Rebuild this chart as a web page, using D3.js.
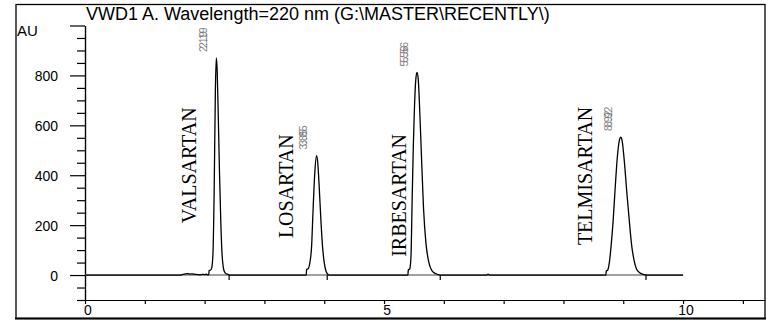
<!DOCTYPE html>
<html><head><meta charset="utf-8">
<script src="https://cdn.jsdelivr.net/npm/d3@7"></script>
<style>html,body{margin:0;padding:0;background:#fff}svg{display:block}</style>
</head><body>
<svg id="c" width="783" height="327"></svg>
<script>
// ---- data ----
const title = "VWD1 A. Wavelength=220 nm (G:\\MASTER\\RECENTLY\\)";
const yLabel = "AU";
const yMajorTicks = [0, 200, 400, 600, 800, 1000];
const yTickLabels = [0, 200, 400, 600, 800];
const xTicks = [0,1,2,3,4,5,6,7,8,9,10,11];
const xTickLabels = [0, 5, 10];
// chromatogram trace (time in min, signal in AU)
const traceTime = [0,1.60,1.64,1.68,1.72,1.76,1.80,1.84,1.88,1.92,1.96,2.00,2.03,2.05,2.07,2.075,2.10,2.12,2.14,2.16,2.18,2.195,2.21,2.23,2.25,2.27,2.29,2.31,2.33,2.36,2.40,2.41,
  3.70,3.705,3.73,3.76,3.79,3.81,3.84,3.87,3.89,3.92,3.94,3.97,4.00,4.03,4.06,4.08,
  5.40,5.405,5.43,5.45,5.47,5.49,5.51,5.53,5.55,5.57,5.60,5.63,5.66,5.70,5.75,5.80,5.86,5.94,
  6.72,6.74,6.76,
  8.71,8.715,8.74,8.77,8.80,8.83,8.86,8.90,8.94,8.96,8.98,9.02,9.06,9.10,9.14,9.18,9.22,9.27,9.33,9.40,10.0];
const traceAU = [0,0,3,5,6,4,5,3,2,1,3,2,4,1,2,18,20,30,90,340,740,870,820,620,400,220,90,35,14,5,2,0,
  0,22,25,50,120,240,400,478,455,335,240,120,50,15,3,0,
  0,20,25,70,300,520,680,780,812,790,640,450,270,130,50,18,6,0,
  0,4,0,
  0,15,20,55,125,215,330,470,545,553,540,450,330,220,120,60,25,10,3,0,0];
// peaks: retention-time labels
const peakNames = ["VALSARTAN","LOSARTAN","IRBESARTAN","TELMISARTAN"];
const peakRT = [2.195, 3.87, 5.55, 8.96];
const peakHeight = [870, 478, 812, 553];
const peakRTLabels = ["2.19","3.85","5.56","8.92"];
// compound name anchors (time, AU)
const nameTime = [1.856, 3.483, 5.368, 8.473];
const nameAU = [208, 148, 73, 120];
// integration end markers (min)
const markerTime = [2.41, 4.05, 5.94, 9.38];

// ---- drawing ----
const svg = d3.select("#c");
const x = d3.scaleLinear().domain([0, 11.37]).range([85, 765]);
const y = d3.scaleLinear().domain([-100, 1000]).range([300, 25.5]);
const sans = "'Liberation Sans', Arial, sans-serif";
const serif = "'Liberation Serif', 'Times New Roman', serif";

// frame
svg.append("rect").attr("x",16).attr("y",4.5).attr("width",749).attr("height",314)
  .attr("fill","none").attr("stroke","#000").attr("stroke-width",1.3);
svg.append("line").attr("x1",15).attr("x2",766).attr("y1",318.5).attr("y2",318.5)
  .attr("stroke","#000").attr("stroke-width",2.2);

// title
svg.append("text").attr("x",86).attr("y",20).attr("font-family",sans).attr("font-size",18)
  .attr("fill","#000").text(title);
svg.append("text").attr("x",17).attr("y",36).attr("font-family",sans).attr("font-size",15)
  .attr("fill","#000").text(yLabel);

// y axis minor ticks
const yMinor = d3.range(-100, 1001, 50).filter(v => yMajorTicks.indexOf(v) < 0);
const gyMinor = svg.append("g").attr("transform","translate(85,0)")
  .call(d3.axisLeft(y).tickValues(yMinor).tickSize(8).tickSizeOuter(0).tickFormat(""));
const gy = svg.append("g").attr("transform","translate(85,0)")
  .call(d3.axisLeft(y).tickValues(yMajorTicks).tickSize(15).tickSizeOuter(0)
    .tickFormat(d => yTickLabels.indexOf(d) >= 0 ? d : ""));
[gyMinor, gy].forEach(g => {
  g.selectAll("path,line").attr("stroke","#000").attr("stroke-width",1.2);
});
gy.selectAll("text").attr("font-family",sans).attr("font-size",14).attr("fill","#000")
  .attr("x",-27).attr("dy","0.36em");

// x axis
const gx = svg.append("g").attr("transform",`translate(0,${y(-100)})`)
  .call(d3.axisBottom(x).tickValues(xTicks).tickSize(4).tickSizeOuter(0)
    .tickFormat(d => xTickLabels.indexOf(d) >= 0 ? d : ""));
gx.selectAll("path,line").attr("stroke","#000").attr("stroke-width",1.2);
gx.selectAll("text").attr("font-family",sans).attr("font-size",14).attr("fill","#000")
  .attr("dx",2.5).attr("y",5);

// baseline
svg.append("line").attr("x1",x(0)).attr("x2",x(10)).attr("y1",y(0)).attr("y2",y(0))
  .attr("stroke","#808080").attr("stroke-width",1.6);

// trace
const pts = traceTime.map((t,i) => [t, traceAU[i]]);
const line = d3.line().x(d => x(d[0])).y(d => y(d[1])).curve(d3.curveMonotoneX);
svg.append("path").datum(pts).attr("d",line).attr("fill","none")
  .attr("stroke","#000").attr("stroke-width",1.3);

// integration markers
svg.selectAll(".mk").data(markerTime).enter().append("line")
  .attr("x1",d=>x(d)).attr("x2",d=>x(d)).attr("y1",y(0)).attr("y2",y(0)+5)
  .attr("stroke","#000").attr("stroke-width",1.2);

// retention time labels
peakRT.forEach((t,i) => {
  const px = x(t) - 9, py = y(peakHeight[i]) - 6;
  [0, 4].forEach(off => {
    svg.append("text").attr("transform",`translate(${px},${py - off}) rotate(-90)`)
      .attr("font-family",sans).attr("font-size",10.5).attr("fill","#666")
      .attr("opacity",0.8).text(peakRTLabels[i]);
  });
});

// compound names
peakNames.forEach((n,i) => {
  svg.append("text").attr("transform",`translate(${x(nameTime[i])},${y(nameAU[i])}) rotate(-90)`)
    .attr("font-family",serif).attr("font-size",20).attr("fill","#000").text(n);
});
</script>
</body></html>
